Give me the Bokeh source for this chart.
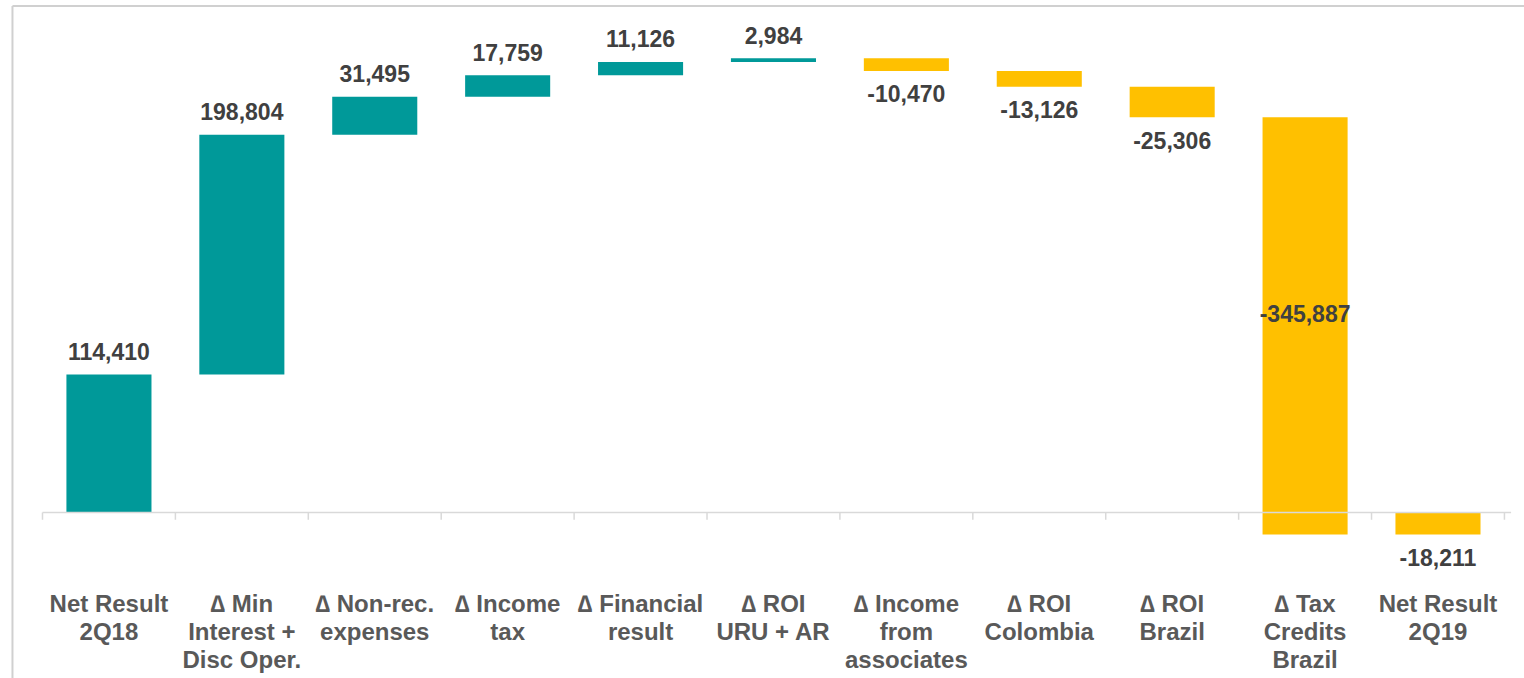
from bokeh.plotting import figure
from bokeh.models import Range1d, ColumnDataSource
from bokeh.core.properties import value
from bokeh.embed import file_html
from bokeh.resources import INLINE

categories = [
    ["Net Result", "2Q18"],
    ["\u2206 Min", "Interest +", "Disc Oper."],
    ["\u2206 Non-rec.", "expenses"],
    ["\u2206 Income", "tax"],
    ["\u2206 Financial", "result"],
    ["\u2206 ROI", "URU + AR"],
    ["\u2206 Income", "from", "associates"],
    ["\u2206 ROI", "Colombia"],
    ["\u2206 ROI", "Brazil"],
    ["\u2206 Tax", "Credits", "Brazil"],
    ["Net Result", "2Q19"],
]
values = [114410, 198804, 31495, 17759, 11126, 2984, -10470, -13126, -25306, -345887, -18211]
is_total = [True, False, False, False, False, False, False, False, False, False, True]

TEAL = "#009999"
GOLD = "#FFC000"
LABEL = "#404040"
CATC = "#595959"
FONT = "Liberation Sans"

# waterfall geometry
bottoms, tops, colors, xs = [], [], [], []
run = 0
for i, (v, t) in enumerate(zip(values, is_total)):
    if t:
        s, e = 0, v
    else:
        s, e = run, run + v
    run = e
    bottoms.append(min(s, e))
    tops.append(max(s, e))
    colors.append(TEAL if v >= 0 else GOLD)
    xs.append(i + 0.5)

src = ColumnDataSource(dict(x=xs, bottom=bottoms, top=tops, color=colors))

p = figure(width=1524, height=678, output_backend="svg", toolbar_location=None,
           x_axis_type=None, y_axis_type=None,
           x_range=Range1d(-0.316, 11.151), y_range=Range1d(-137600, 424500),
           min_border=0, min_border_left=0, min_border_right=0,
           min_border_top=0, min_border_bottom=0)
p.outline_line_color = None
p.grid.visible = False
p.background_fill_color = "white"

# frame borders (light gray)
p.segment(x0=[-0.226, -0.226], y0=[420000, 420000], x1=[11.151, -0.226], y1=[420000, -137600],
          line_color="#d0d0d0", line_width=2)

# bars
p.vbar(x="x", width=0.64, bottom="bottom", top="top", fill_color="color",
       line_color=None, source=src)

# baseline axis and ticks
n = len(values)
p.segment(x0=[0], y0=[0], x1=[n + 0.05], y1=[0], line_color="#d9d9d9", line_width=1.5)
tick_x = list(range(n + 1))
p.segment(x0=tick_x, y0=[0] * len(tick_x), x1=tick_x, y1=[-6000] * len(tick_x),
          line_color="#d9d9d9", line_width=1.5)

# value labels
above_x, above_y, above_t = [], [], []
below_x, below_y, below_t = [], [], []
mid_x, mid_y, mid_t = [], [], []
run = 0
for i, (v, t) in enumerate(zip(values, is_total)):
    s = 0 if t else run
    e = v if t else run + v
    run = e
    txt = f"{v:,}"
    if s > 0 and e < 0 or s < 0 and e > 0:
        mid_x.append(i + 0.5); mid_y.append((s + e) / 2); mid_t.append(txt)
    elif v >= 0:
        above_x.append(i + 0.5); above_y.append(max(s, e)); above_t.append(txt)
    else:
        below_x.append(i + 0.5); below_y.append(min(s, e)); below_t.append(txt)

common = dict(text_font=value(FONT), text_font_style="bold", text_font_size="23px",
              text_color=LABEL, text_align="center", text_baseline="middle")
p.text(x=above_x, y=above_y, text=above_t, y_offset=-23, **common)
p.text(x=below_x, y=below_y, text=below_t, y_offset=23, **common)
p.text(x=mid_x, y=mid_y, text=mid_t, y_offset=-12, **common)

# category labels
cx, cy, ct, co = [], [], [], []
for i, lines in enumerate(categories):
    for j, ln in enumerate(lines):
        cx.append(i + 0.5); cy.append(0); ct.append(ln); co.append(91 + 28 * j)
csrc = ColumnDataSource(dict(x=cx, y=cy, text=ct, off=co))
p.text(x="x", y="y", text="text", y_offset="off", source=csrc,
       text_font=value(FONT), text_font_style="bold", text_font_size="24px",
       text_color=CATC, text_align="center", text_baseline="middle")

open("out.html", "w").write(file_html(p, INLINE))
